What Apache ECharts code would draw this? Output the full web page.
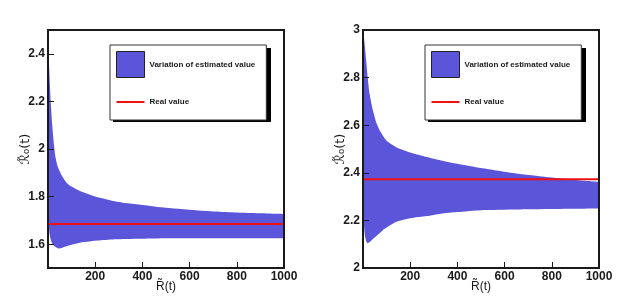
<!DOCTYPE html>
<html>
<head>
<meta charset="utf-8">
<script src="https://cdn.jsdelivr.net/npm/echarts@6/dist/echarts.min.js"></script>
<style>html,body{margin:0;padding:0;background:#fff;}#c{width:630px;height:299px;}</style>
</head>
<body>
<div id="c"></div>
<script>
// ---- data ----
const xL = [1, 3, 5, 8, 12, 18, 25, 31, 41, 50, 60, 70, 85, 100, 126, 150, 200, 270, 330, 400, 500, 650, 830, 1000];
const upperL = [2.56, 2.42, 2.34, 2.27, 2.19, 2.10, 2.02, 1.97, 1.926, 1.905, 1.885, 1.87, 1.852, 1.842, 1.828, 1.818, 1.80, 1.783, 1.773, 1.765, 1.753, 1.741, 1.732, 1.727];
const lowerL = [1.80, 1.70, 1.66, 1.635, 1.618, 1.603, 1.594, 1.589, 1.583, 1.582, 1.585, 1.589, 1.594, 1.598, 1.604, 1.609, 1.615, 1.62, 1.622, 1.623, 1.625, 1.625, 1.625, 1.625];
const realL = 1.685;

const xR = [1, 3, 5, 8, 13, 20, 27, 40, 55, 70, 85, 100, 126, 150, 200, 270, 330, 400, 500, 650, 800, 900, 1000];
const upperR = [3.06, 3.0, 2.96, 2.93, 2.877, 2.80, 2.737, 2.67, 2.615, 2.58, 2.555, 2.535, 2.517, 2.503, 2.485, 2.466, 2.452, 2.438, 2.42, 2.397, 2.38, 2.37, 2.362];
const lowerR = [2.30, 2.22, 2.17, 2.135, 2.115, 2.104, 2.108, 2.12, 2.133, 2.146, 2.16, 2.17, 2.186, 2.197, 2.209, 2.218, 2.228, 2.235, 2.243, 2.246, 2.248, 2.249, 2.25];
const realR = 2.373;

const yTicksL = [1.6, 1.8, 2, 2.2, 2.4];
const yTicksR = [2, 2.2, 2.4, 2.6, 2.8, 3];

const bandName = 'Variation of estimated value';
const realName = 'Real value';

// ---- style ----
const BLUE = '#5a55d9';
const RED = '#f01010';
const FONT = '"Liberation Sans", Arial, sans-serif';
const INK = '#1a1a1a';

const chart = echarts.init(document.getElementById('c'), null, {renderer: 'canvas'});

function pairs(xs, ys) { return xs.map((x, i) => [x, ys[i]]); }

function xAxisDef(gi) {
  return {
    type: 'value', gridIndex: gi, min: 0, max: 1000, interval: 200, z: 5,
    name: 'R\u0303(t)', nameLocation: 'middle', nameGap: 13, nameMoveOverlap: false,
    nameTextStyle: {fontFamily: FONT, fontSize: 12, color: INK},
    axisLine: {show: true, lineStyle: {color: INK, width: 2}},
    axisTick: {show: true, inside: true, length: 6, lineStyle: {color: INK, width: 1}},
    axisLabel: {showMinLabel: false, margin: 3, fontFamily: FONT, fontSize: 12, fontWeight: 'bold', color: INK,
                formatter: v => String(v)},
    splitLine: {show: false}
  };
}
function yAxisDef(gi, mn, mx, ticks) {
  return {
    type: 'value', gridIndex: gi, min: mn, max: mx, interval: 0.2, z: 5,
    name: '\u211B\u0303\u2080(t)', nameLocation: 'middle', nameGap: 16, nameMoveOverlap: false,
    nameTextStyle: {fontFamily: '"DejaVu Sans", sans-serif', fontSize: 13, color: INK},
    axisLine: {show: true, lineStyle: {color: INK, width: 2}},
    axisTick: {show: true, inside: true, length: 6, lineStyle: {color: INK, width: 1}, customValues: ticks},
    axisLabel: {margin: 3, fontFamily: FONT, fontSize: 12, fontWeight: 'bold', color: INK, customValues: ticks,
                formatter: v => String(+v.toFixed(2))},
    splitLine: {show: false}
  };
}
function legendDef(left) {
  return {
    left: left, top: 45, orient: 'vertical', z: 10,
    padding: [6, 11, 5, 6], itemGap: 11, itemWidth: 28, itemHeight: 26,
    backgroundColor: '#fff', borderColor: '#333', borderWidth: 1,
    textStyle: {fontFamily: FONT, fontSize: 8, fontWeight: 'bold', color: INK},
    selectedMode: false,
    data: [
      {name: bandName, icon: 'rect', itemStyle: {color: BLUE, borderColor: '#222', borderWidth: 1}},
      {name: realName, icon: 'path://M0,0 M28,26 M0,12 L28,12 L28,14 L0,14 Z', itemStyle: {color: RED, borderWidth: 0}}
    ]
  };
}
function bandSeries(gi, xs, up, lo, real) {
  return [
    {type: 'line', name: bandName, xAxisIndex: gi, yAxisIndex: gi,
     data: pairs(xs, up), symbol: 'none', smooth: 0.2, silent: true,
     itemStyle: {color: BLUE}, lineStyle: {width: 0, opacity: 0},
     areaStyle: {color: BLUE, opacity: 1, origin: 'start'}, z: 2},
    {type: 'line', name: 'lower' + gi, xAxisIndex: gi, yAxisIndex: gi,
     data: pairs(xs, lo), symbol: 'none', smooth: 0.2, silent: true,
     itemStyle: {color: '#fff'}, lineStyle: {width: 0, opacity: 0},
     areaStyle: {color: '#fff', opacity: 1, origin: 'start'}, z: 3},
    {type: 'line', name: realName, xAxisIndex: gi, yAxisIndex: gi,
     data: [[0, real], [1000, real]], symbol: 'none', silent: true,
     itemStyle: {color: RED}, lineStyle: {color: RED, width: 2}, z: 4}
  ];
}

chart.setOption({
  animation: false,
  backgroundColor: '#fff',
  grid: [
    {left: 48, top: 30, width: 236, height: 238, show: true, borderColor: INK, borderWidth: 2, z: 5,
     outerBoundsMode: 'none', containLabel: false},
    {left: 363, top: 30, width: 236, height: 238, show: true, borderColor: INK, borderWidth: 2, z: 5,
     outerBoundsMode: 'none', containLabel: false}
  ],
  xAxis: [xAxisDef(0), xAxisDef(1)],
  yAxis: [yAxisDef(0, 1.5, 2.5, yTicksL), yAxisDef(1, 2, 3, yTicksR)],
  legend: [legendDef(110), legendDef(425)],
  graphic: [
    {type: 'rect', z: 9, silent: true, shape: {x: 113, y: 48, width: 158, height: 74}, style: {fill: '#000'}},
    {type: 'rect', z: 9, silent: true, shape: {x: 428, y: 48, width: 158, height: 74}, style: {fill: '#000'}}
  ],
  series: [].concat(
    bandSeries(0, xL, upperL, lowerL, realL),
    bandSeries(1, xR, upperR, lowerR, realR)
  )
});
</script>
</body>
</html>
